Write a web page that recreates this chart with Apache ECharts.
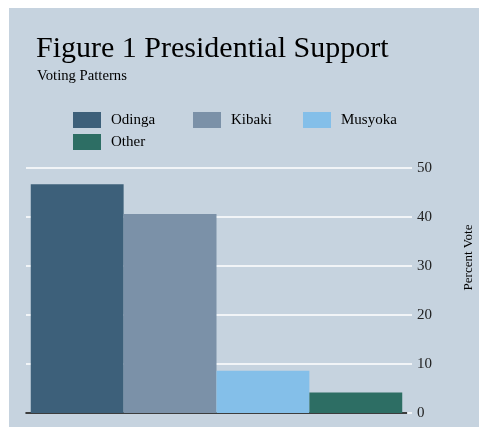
<!DOCTYPE html>
<html>
<head>
<meta charset="utf-8">
<script src="https://cdn.jsdelivr.net/npm/echarts@6/dist/echarts.min.js"></script>
<style>
  html, body { margin: 0; padding: 0; background: #fff; }
  #main { position: absolute; left: 9px; top: 8px; width: 470px; height: 419px; }
</style>
</head>
<body>
<div id="main"></div>
<script>
  // data
  const candidates = ['Odinga', 'Kibaki', 'Musyoka', 'Other'];
  const percentVote = [46.7, 40.6, 8.6, 4.2];
  const barColors = ['#3d607a', '#7b91a8', '#84bfe9', '#2d6e64'];
  const yTicks = { min: 0, max: 50, interval: 10 };

  const serif = 'Liberation Serif, Times New Roman, serif';
  let myChart = echarts.init(document.getElementById('main'));

  // legend is split into columns like the original
  const legendBase = {
    orient: 'vertical',
    top: 104,
    padding: 0,
    icon: 'rect',
    itemWidth: 28,
    itemHeight: 16,
    itemGap: 6,
    selectedMode: false,
    textStyle: { fontFamily: serif, fontSize: 15, color: '#000', padding: [0, 0, 0, 5] }
  };

  let option = {
    backgroundColor: '#c6d3df',
    animation: false,
    title: [
      {
        text: 'Figure 1 Presidential Support',
        left: 27, top: 26, padding: 0,
        textStyle: { fontFamily: serif, fontSize: 30, fontWeight: 'normal', color: '#000' }
      },
      {
        text: 'Voting Patterns',
        left: 28, top: 61, padding: 0,
        textStyle: { fontFamily: serif, fontSize: 14.7, fontWeight: 'normal', color: '#000' }
      }
    ],
    legend: [
      Object.assign({}, legendBase, { left: 64, data: [candidates[0], candidates[3]] }),
      Object.assign({}, legendBase, { left: 184, data: [candidates[1]] }),
      Object.assign({}, legendBase, { left: 294, data: [candidates[2]] })
    ],
    grid: { left: 17, right: 72, top: 160, bottom: 14, outerBoundsMode: 'none', containLabel: false },
    xAxis: {
      type: 'category',
      data: [''],
      axisLine: { lineStyle: { color: '#000', width: 1.5 } },
      axisTick: { show: false },
      axisLabel: { show: false }
    },
    yAxis: {
      type: 'value',
      position: 'right',
      min: yTicks.min, max: yTicks.max, interval: yTicks.interval,
      name: 'Percent Vote',
      nameLocation: 'middle',
      nameRotate: 90,
      nameGap: 55,
      nameTextStyle: { fontFamily: serif, fontSize: 13, color: '#000', padding: [0, 0, 0, 66] },
      axisLine: { show: false },
      axisTick: { show: true, length: 5, lineStyle: { color: '#fff', width: 1.5 } },
      axisLabel: { margin: 10, fontFamily: serif, fontSize: 15, color: '#222' },
      splitLine: { show: true, lineStyle: { color: '#fff', width: 1.5 } }
    },
    series: candidates.map((name, i) => ({
      type: 'bar',
      name: name,
      data: [percentVote[i]],
      barGap: 0,
      barCategoryGap: '2.5%',
      itemStyle: { color: barColors[i] }
    }))
  };
  option && myChart.setOption(option);
</script>
</body>
</html>
